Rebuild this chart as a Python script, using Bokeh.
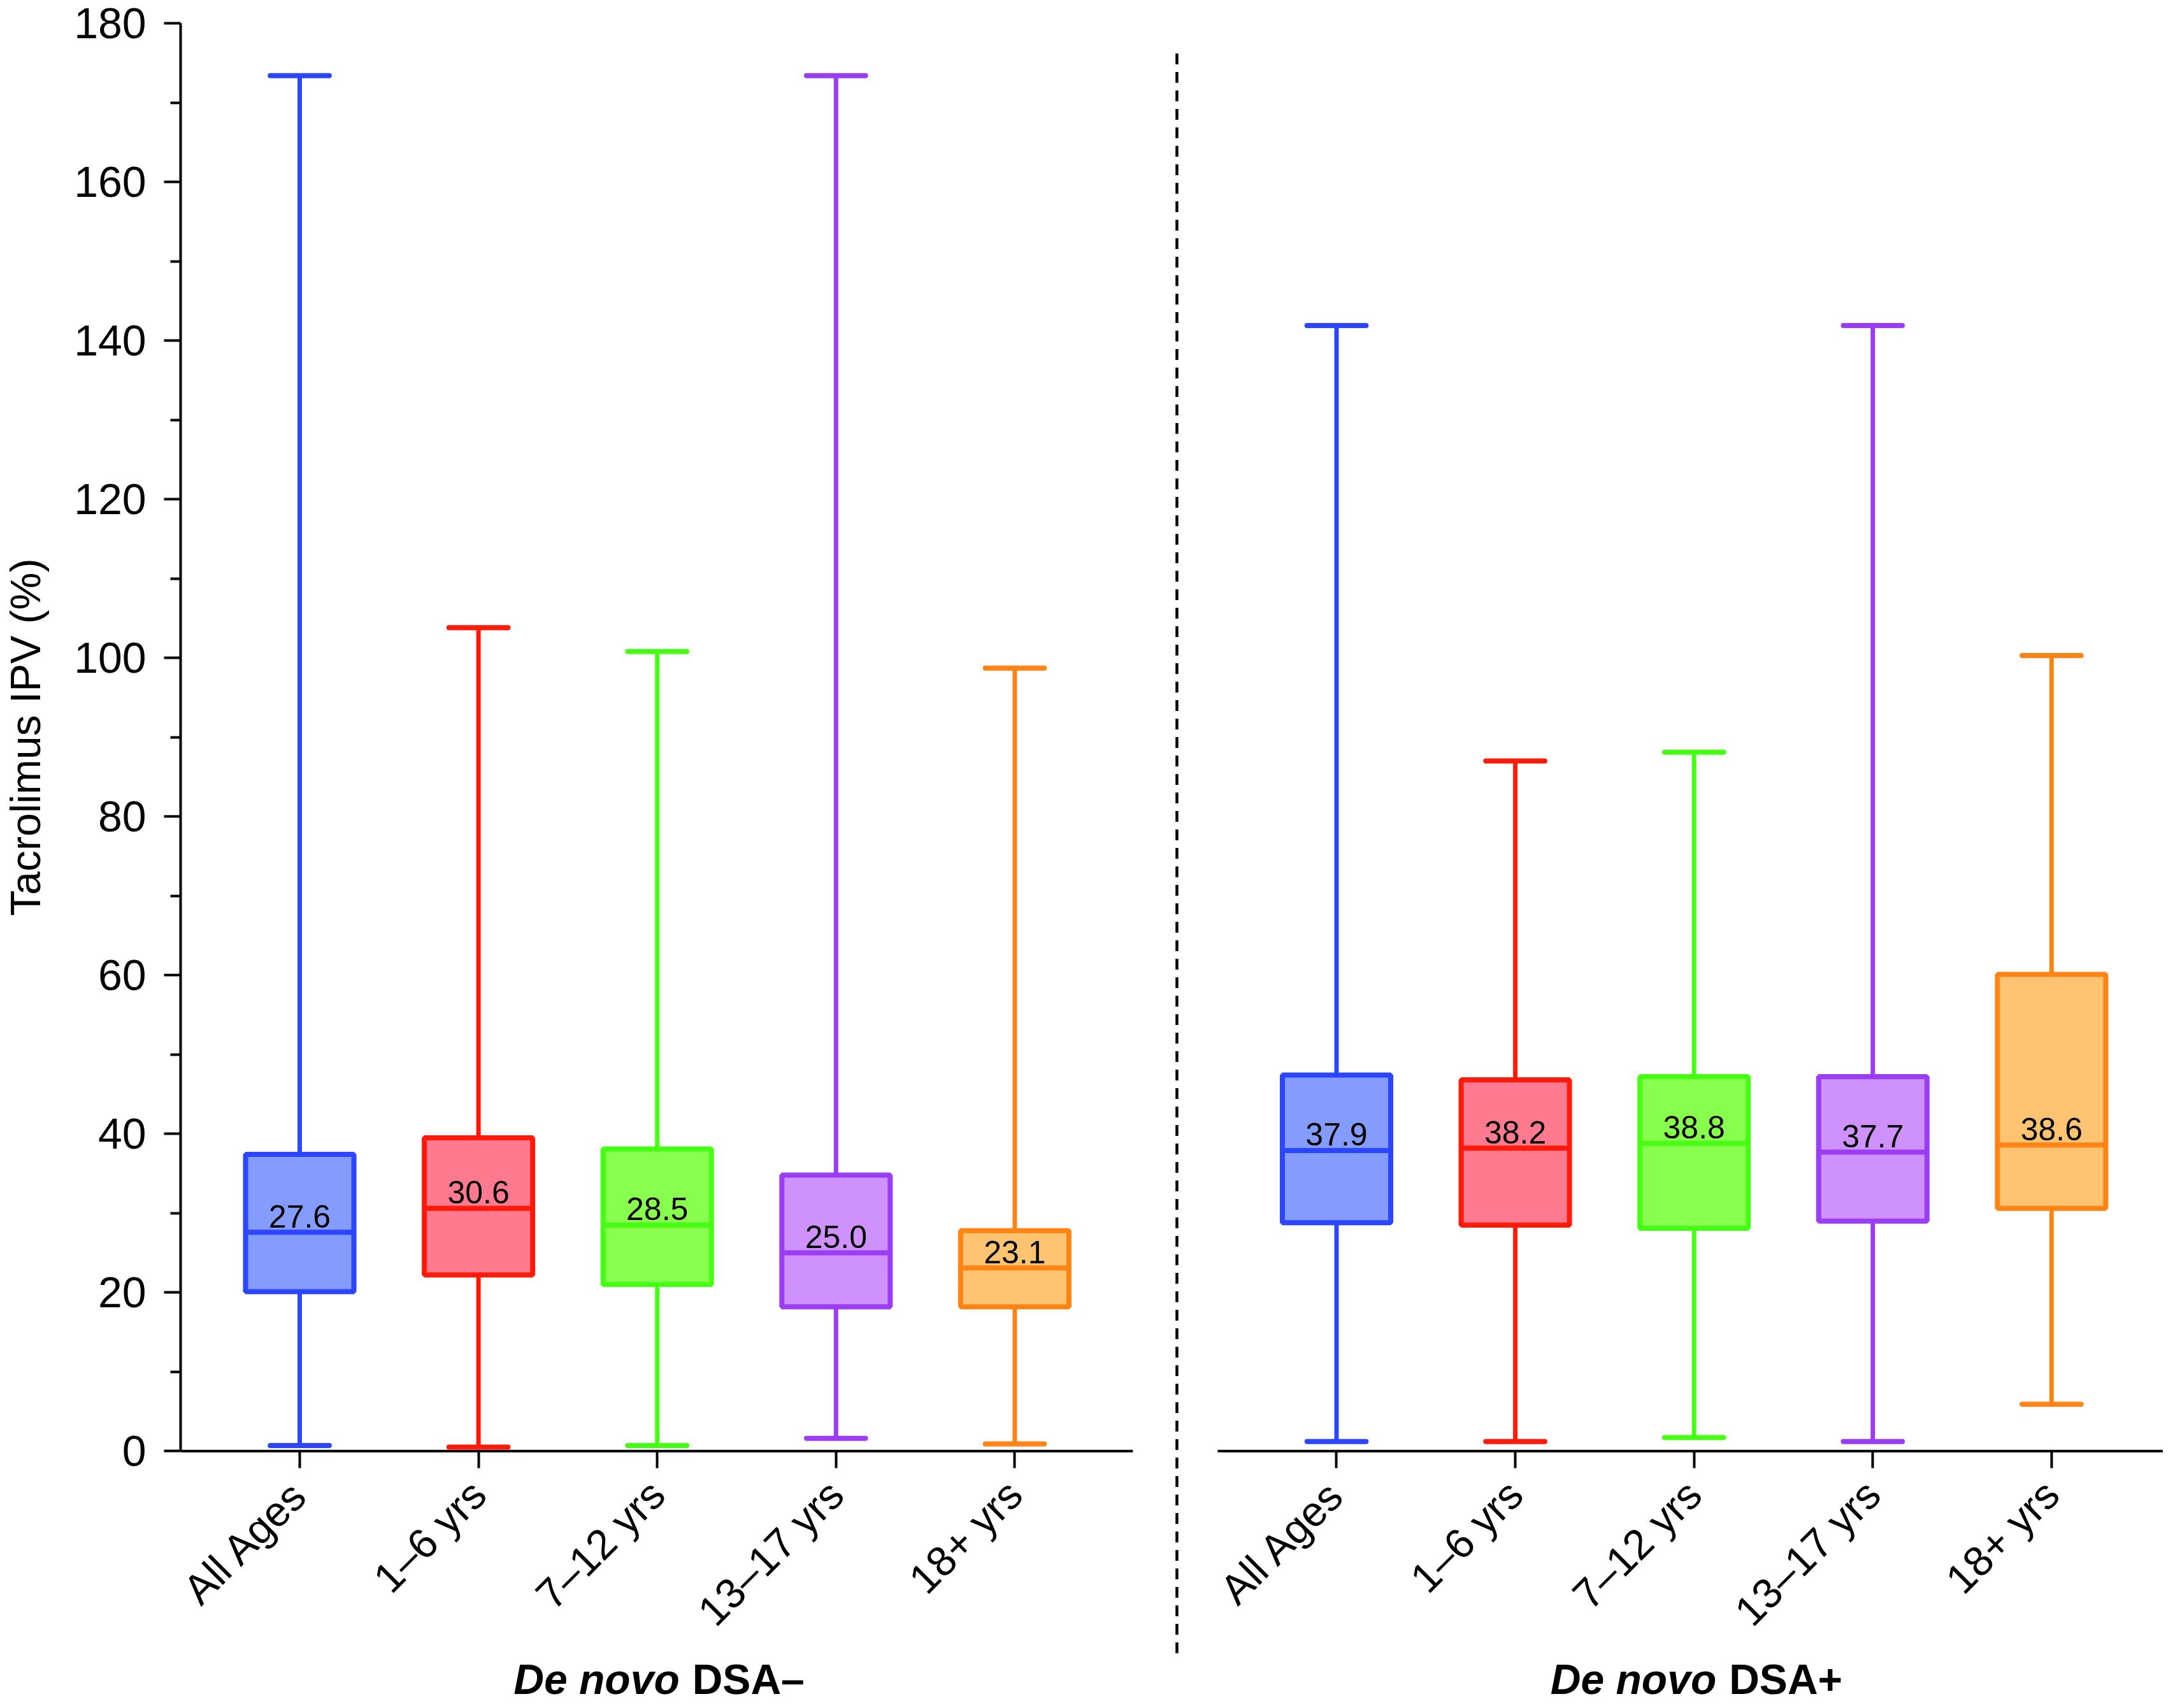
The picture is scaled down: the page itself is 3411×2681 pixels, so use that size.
import math
from bokeh.plotting import figure
from bokeh.models import Range1d, FixedTicker, ColumnDataSource
from bokeh.embed import file_html
from bokeh.resources import INLINE
from bokeh.core.properties import value

# ---------------- data ----------------
categories = ["All Ages", "1\u20136 yrs", "7\u201312 yrs", "13\u201317 yrs", "18+ yrs"]
groups = ["DSA\u2013", "DSA+"]
group_prefix = "De novo"
y_title = "Tacrolimus IPV (%)"

# De novo DSA-
neg_min    = [0.7, 0.5, 0.7, 1.6, 0.9]
neg_q1     = [20.1, 22.2, 21.0, 18.2, 18.2]
neg_median = [27.6, 30.6, 28.5, 25.0, 23.1]
neg_q3     = [37.4, 39.5, 38.1, 34.8, 27.8]
neg_max    = [173.4, 103.8, 100.8, 173.4, 98.7]

# De novo DSA+
pos_min    = [1.2, 1.2, 1.7, 1.2, 5.9]
pos_q1     = [28.8, 28.5, 28.1, 29.0, 30.6]
pos_median = [37.9, 38.2, 38.8, 37.7, 38.6]
pos_q3     = [47.4, 46.8, 47.2, 47.2, 60.1]
pos_max    = [141.9, 87.0, 88.1, 141.9, 100.3]

edge_colors = ["#2C46FF", "#FF1A0A", "#46FF14", "#9A3DF5", "#FF8416"]
fill_colors = ["#859CFF", "#FF7A8E", "#88FF4E", "#CF91FB", "#FEC472"]

y_ticks = [0, 20, 40, 60, 80, 100, 120, 140, 160, 180]
y_minor = [10, 30, 50, 70, 90, 110, 130, 150, 170]

# ---------------- layout constants ----------------
GROUP_OFFSET = 5.8
BOX_W = 0.606
CAP_W = 0.33
FONT = "Liberation Sans"
W, H = 3395, 2665
# the plotting frame covers the whole canvas; axes are pinned inside it
X_START, X_END = -1.675, 10.424
Y_BOTTOM, Y_TOP = -31.14, 182.9
Y_AXIS_X = -0.666
LEFT_AXIS_END, RIGHT_AXIS_START = 4.661, 5.135
SEP_X, SEP_TOP, SEP_BOTTOM = 4.907, 176.2, -25.76
GROUP_LABEL_Y = -28.81
Y_TITLE_X, Y_TITLE_Y = -1.536, 90.0

xs = [float(i) for i in range(5)] + [GROUP_OFFSET + i for i in range(5)]
mins = neg_min + pos_min
q1s = neg_q1 + pos_q1
meds = neg_median + pos_median
q3s = neg_q3 + pos_q3
maxs = neg_max + pos_max
ecol = edge_colors * 2
fcol = fill_colors * 2
labels = categories * 2

src = ColumnDataSource(dict(
    x=xs, lo=mins, q1=q1s, med=meds, q3=q3s, hi=maxs,
    x0=[x - BOX_W / 2 for x in xs], x1=[x + BOX_W / 2 for x in xs],
    c0=[x - CAP_W / 2 for x in xs], c1=[x + CAP_W / 2 for x in xs],
    ec=ecol, fc=fcol, txt=["%.1f" % m for m in meds],
))

p = figure(width=W, height=H, output_backend="svg", toolbar_location=None,
           x_range=Range1d(X_START, X_END), y_range=Range1d(Y_BOTTOM, Y_TOP),
           min_border=0)
p.outline_line_color = None
p.xgrid.visible = False
p.ygrid.visible = False
p.background_fill_color = "white"
p.border_fill_color = "white"

# broken x-axis line
p.segment(x0=[Y_AXIS_X, RIGHT_AXIS_START], y0=[0, 0], x1=[LEFT_AXIS_END, X_END], y1=[0, 0],
          line_color="black", line_width=4)
# dashed separator
p.segment(x0=[SEP_X], y0=[SEP_TOP], x1=[SEP_X], y1=[SEP_BOTTOM],
          line_color="black", line_width=4.5, line_dash="17 12")

# whiskers
p.segment(x0="x", y0="q3", x1="x", y1="hi", source=src, line_color="ec", line_width=7)
p.segment(x0="x", y0="q1", x1="x", y1="lo", source=src, line_color="ec", line_width=7)
# caps
p.segment(x0="c0", y0="hi", x1="c1", y1="hi", source=src, line_color="ec",
          line_width=8, line_cap="round")
p.segment(x0="c0", y0="lo", x1="c1", y1="lo", source=src, line_color="ec",
          line_width=8, line_cap="round")
# boxes
p.vbar(x="x", width=BOX_W, bottom="q1", top="q3", source=src,
       fill_color="fc", line_color="ec", line_width=8)
# medians
p.segment(x0="x0", y0="med", x1="x1", y1="med", source=src, line_color="ec", line_width=8)
p.text(x="x", y="med", text="txt", source=src, text_align="center",
       text_baseline="alphabetic", y_offset=-25, text_font=value(FONT),
       text_font_size="50px", text_color="black")

# y axis (pinned at the left end of the x axis)
ya = p.yaxis[0]
ya.fixed_location = Y_AXIS_X
ya.bounds = (0, 180)
ya.ticker = FixedTicker(ticks=y_ticks, minor_ticks=y_minor)
ya.major_label_text_font = FONT
ya.major_label_text_font_size = "68px"
ya.major_label_text_color = "black"
ya.major_label_standoff = 28
ya.axis_line_width = 4
ya.axis_line_color = "black"
ya.major_tick_line_width = 4
ya.minor_tick_line_width = 4
ya.major_tick_out = 26
ya.major_tick_in = 0
ya.minor_tick_out = 16
ya.minor_tick_in = 0

# y title
p.text(x=[Y_TITLE_X], y=[Y_TITLE_Y], text=[y_title], angle=math.pi / 2,
       text_align="center", text_baseline="middle", text_font=value(FONT),
       text_font_size="66px", text_color="black")

# x axis (pinned at y = 0)
xa = p.xaxis[0]
xa.fixed_location = 0
xa.ticker = FixedTicker(ticks=xs, minor_ticks=[])
xa.major_label_overrides = {x: lab for x, lab in zip(xs, labels)}
xa.major_label_orientation = math.pi / 4
xa.major_label_text_font = FONT
xa.major_label_text_font_size = "66px"
xa.major_label_text_color = "black"
xa.major_label_standoff = 30
xa.axis_line_color = None
xa.major_tick_line_width = 4
xa.major_tick_out = 27
xa.major_tick_in = 0

# group labels
gx = [2.0 + gi * GROUP_OFFSET for gi in range(len(groups))]
gy = [GROUP_LABEL_Y] * len(groups)
p.text(x=gx, y=gy, text=[group_prefix] * len(groups), x_offset=35,
       text_align="right", text_baseline="middle", text_font=value(FONT),
       text_font_style="bold italic", text_font_size="66px", text_color="black")
p.text(x=gx, y=gy, text=groups, x_offset=55,
       text_align="left", text_baseline="middle", text_font=value(FONT),
       text_font_style="bold", text_font_size="66px", text_color="black")

open("out.html", "w").write(file_html(p, INLINE))
